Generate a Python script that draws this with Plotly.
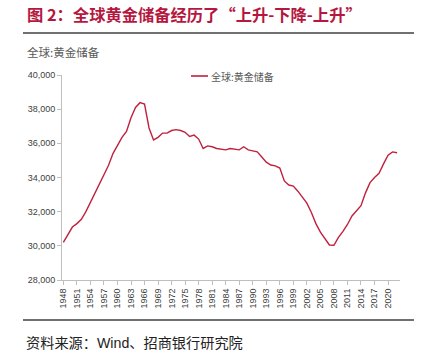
import plotly.graph_objects as go

years = list(range(1948, 2023))
reserves = [
    30200, 30650, 31100, 31300, 31550, 32000, 32550, 33100, 33550, 34100,
    34700, 35400, 35900, 36350, 36700, 37500, 38100, 38380, 38300, 36900,
    36200, 36350, 36600, 36600, 36750, 36800, 36750, 36650, 36400, 36480,
    36250, 35700, 35850, 35800, 35700, 35640, 35620, 35700, 35650, 35620,
    35800, 35620, 35560, 35500, 35200, 34900, 34730, 34680, 34550, 33800,
    33560, 33500, 33200, 32850, 32500, 31950, 31300, 30800, 30450, 30050,
    30030, 30500, 30850, 31250, 31750, 32050, 32350, 33100, 33700, 34000,
    34250, 34800, 35300, 35500, 35450,
]
tick_years = list(range(1948, 2021, 3))
y_ticks = [28000, 30000, 32000, 34000, 36000, 38000, 40000]
y_labels = [f"{v:,}" for v in y_ticks]
series_name = "全球:黄金储备"

W, H = 431, 359
L, R, T, B = 62, 31, 75, 79
PW, PH = W - L - R, H - T - B


def px(x):
    return (x - L) / PW


def py(y):
    return (H - B - y) / PH


LINE_COLOR = "#C0213D"
CJK = "Noto Sans CJK SC"

fig = go.Figure()
fig.add_trace(go.Scatter(
    x=years, y=reserves, mode="lines", name=series_name,
    line=dict(color=LINE_COLOR, width=1.4), showlegend=False,
))

fig.update_layout(
    width=W, height=H,
    margin=dict(l=L, r=R, t=T, b=B),
    paper_bgcolor="white", plot_bgcolor="white",
    font=dict(family="Liberation Sans, Arial", size=9, color="#595959"),
    xaxis=dict(
        range=[1947.7, 2022.65], tickmode="array", tickvals=tick_years,
        ticktext=[str(y) for y in tick_years], tickangle=-90,
        showgrid=False, zeroline=False, showline=True, linecolor="#BFBFBF",
        linewidth=1, ticks="outside", ticklen=4, tickcolor="#BFBFBF",
        tickfont=dict(size=9, color="#404040"),
    ),
    yaxis=dict(
        range=[28000, 40000], tickmode="array", tickvals=y_ticks,
        ticktext=y_labels, showgrid=False, zeroline=False, showline=True,
        linecolor="#BFBFBF", linewidth=1, ticks="outside", ticklen=4,
        tickcolor="#BFBFBF", tickfont=dict(size=9, color="#404040"),
    ),
    shapes=[
        dict(type="line", xref="paper", yref="paper", x0=px(23), x1=px(414),
             y0=py(33), y1=py(33), line=dict(color="#404040", width=1.5)),
        dict(type="line", xref="paper", yref="paper", x0=px(23), x1=px(414),
             y0=py(320), y1=py(320), line=dict(color="#404040", width=1.5)),
        dict(type="line", xref="paper", yref="paper", x0=px(191), x1=px(208),
             y0=py(76), y1=py(76), line=dict(color=LINE_COLOR, width=1.6)),
    ],
    annotations=[
        dict(text="<b>图 2：全球黄金储备经历了“上升-下降-上升”</b>",
             xref="paper", yref="paper", x=px(25), y=py(14),
             xanchor="left", yanchor="middle", showarrow=False,
             font=dict(family=CJK, size=16.3, color="#B5173F")),
        dict(text=series_name, xref="paper", yref="paper", x=px(25), y=py(52),
             xanchor="left", yanchor="middle", showarrow=False,
             font=dict(family=CJK, size=11.5, color="#595959")),
        dict(text=series_name, xref="paper", yref="paper", x=px(209), y=py(76),
             xanchor="left", yanchor="middle", showarrow=False,
             font=dict(family=CJK, size=10, color="#595959")),
        dict(text="资料来源：<span style='font-family:Liberation Sans'>Wind</span>、招商银行研究院",
             xref="paper", yref="paper", x=px(24), y=py(342),
             xanchor="left", yanchor="middle", showarrow=False,
             font=dict(family=CJK, size=14.2, color="#222222")),
    ],
)

fig.write_html("out.html", config={"displayModeBar": False},
               post_script="document.body.style.margin='0px';")
